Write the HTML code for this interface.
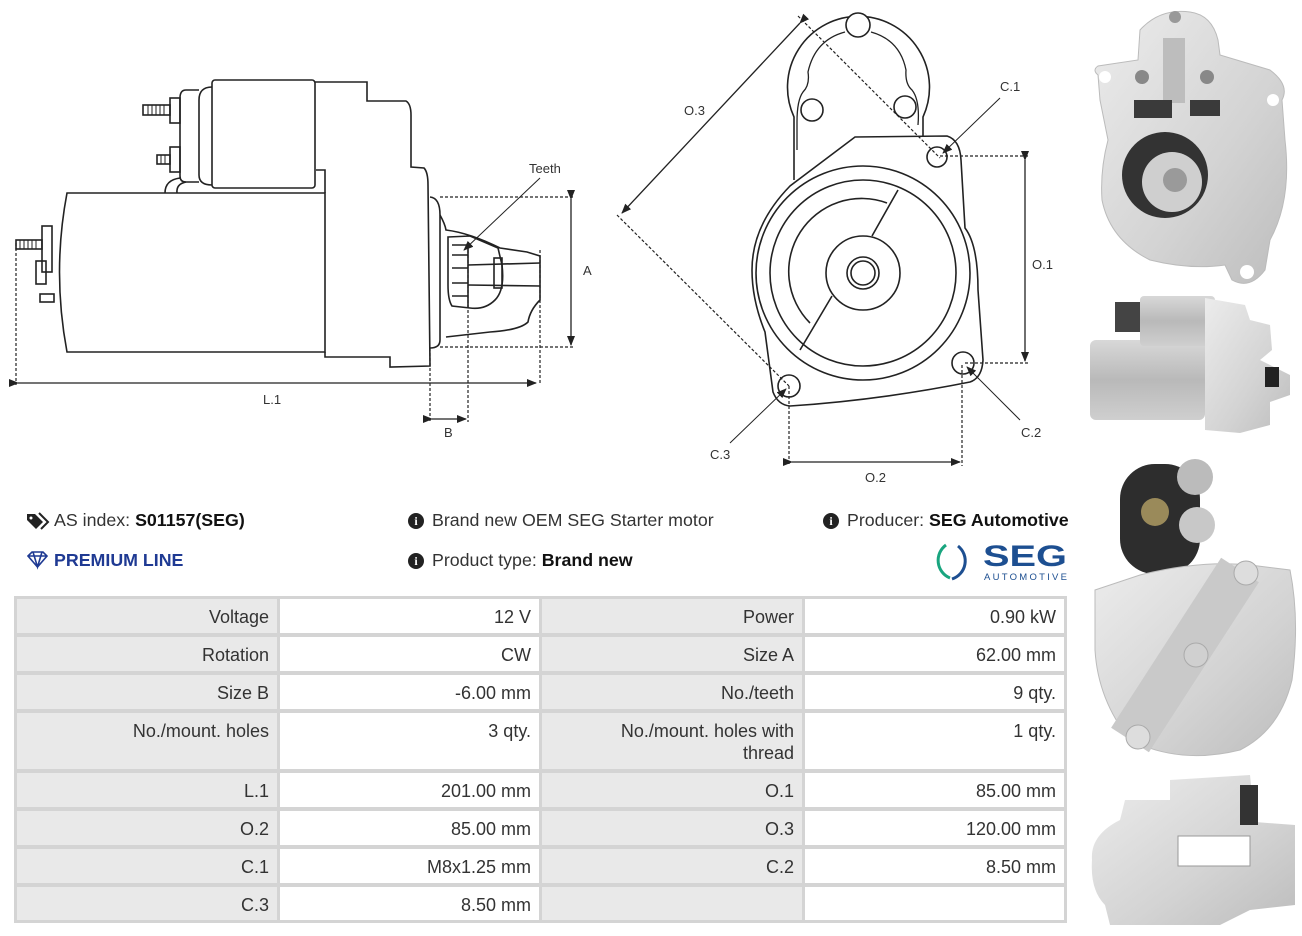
<!DOCTYPE html>
<html><head><meta charset="utf-8"><style>
body{margin:0;width:1302px;height:936px;background:#fff;position:relative;overflow:hidden;font-family:"Liberation Sans",Arial,sans-serif;color:#333}
.t{position:absolute;font-size:17.8px;white-space:nowrap;color:#333}
.t b{color:#111}
.ic{display:inline-block;width:16px;height:16px;border-radius:50%;background:#222;color:#fff;font:bold 12px "Liberation Serif",serif;text-align:center;line-height:16px;vertical-align:1px;margin-right:8px}
.c{position:absolute;box-sizing:border-box;font-size:18px;text-align:right;padding:7px 8px 0 0;line-height:22px;color:#333}
.g{background:#e9e9e9}.w{background:#fff}
</style></head><body>

<svg width="1302" height="936" style="position:absolute;left:0;top:0" xmlns="http://www.w3.org/2000/svg">
<defs>
<marker id="a" markerWidth="10" markerHeight="8" refX="9" refY="4" orient="auto" markerUnits="userSpaceOnUse"><path d="M0,0 L10,4 L0,8 z" fill="#222"/></marker>
<linearGradient id="met" x1="0" y1="0" x2="0" y2="1"><stop offset="0" stop-color="#d8d8d8"/><stop offset=".5" stop-color="#b9b9b9"/><stop offset="1" stop-color="#cfcfcf"/></linearGradient>
<linearGradient id="met2" x1="0" y1="0" x2="1" y2="1"><stop offset="0" stop-color="#ececec"/><stop offset=".6" stop-color="#d3d3d3"/><stop offset="1" stop-color="#bdbdbd"/></linearGradient>
</defs>
<g fill="none" stroke="#222" stroke-width="1.6">
<!-- side view -->
<path d="M67,193 L325,193 L325,352 L67,352 Q52,272 67,193 Z" fill="#fff"/>
<rect x="212" y="80" width="103" height="108" rx="3"/>
<path d="M212,87 Q199,87 199,100 L199,175 Q199,185 212,185"/>
<path d="M199,90 L186,90 Q180,90 180,98 L180,176 Q180,182 186,182 L199,182"/>
<path d="M180,178 Q165,180 165,193 M186,182 Q176,184 177,193"/>
<rect x="170" y="98" width="10" height="25"/><rect x="143" y="105" width="27" height="10"/>
<path d="M148,105v10M152,105v10M156,105v10M160,105v10M164,105v10" stroke-width="1"/>
<rect x="170" y="147" width="10" height="25"/><rect x="157" y="155" width="13" height="9"/>
<path d="M161,155v9M165,155v9" stroke-width="1"/>
<rect x="42" y="226" width="10" height="46"/><rect x="16" y="240" width="26" height="9"/>
<path d="M20,240v9M24,240v9M28,240v9M32,240v9M36,240v9" stroke-width="1"/>
<rect x="36" y="261" width="10" height="23"/><rect x="40" y="294" width="14" height="8"/>
<path d="M315,82 L367,82 L367,101 L406,101 Q411,104 411,115 L411,167 L424,168 Q428,172 428,185 L430,366 L390,367 L390,357 L325,357 L325,352"/>
<path d="M316,170 L325,170 L325,193"/>
<path d="M430,197 Q440,198 440,215 L440,340 Q440,348 430,348"/>
<path d="M440,215 Q445,224 446,230 Q470,233 500,248 L527,252 L540,256 L540,300 Q530,310 528,322 Q520,330 490,332 L446,337"/>
<path d="M448,237 L470,236 L498,248 L502,265 Q505,290 495,300 Q485,310 470,308 L452,306 Q448,300 448,285 Z"/>
<path d="M452,245 L468,245 L468,308 M452,255h16M452,268h16M452,283h16M452,296h16"/>
<path d="M468,265 L540,263 M468,285 L540,286"/>
<rect x="494" y="258" width="8" height="30"/>
<!-- front view -->
<path d="M794,180 L794,117 A71,71 0 1 1 923,117 L923,137"/>
<path d="M797,150 L797,122 Q797,100 803,92 Q810,85 808,72 Q815,40 845,32 M871,32 Q900,40 906,70 Q905,84 912,90 Q920,100 918,125" stroke-width="1.3"/>
<circle cx="858" cy="25" r="12" fill="#fff"/><circle cx="812" cy="110" r="11"/><circle cx="905" cy="107" r="11"/>
<path d="M855,137 L947,136 Q960,140 961,160 L965,228 Q978,245 978,290 L983,360 Q982,378 970,382 Q880,400 790,406 Q778,405 773,392 L765,332 Q752,300 752,270 Q752,225 790,186 Z" fill="#fff"/>
<circle cx="863" cy="273" r="107"/><circle cx="863" cy="273" r="93"/>
<path d="M887,203 A73,73 0 0 0 810,323"/>
<circle cx="863" cy="273" r="37" fill="#fff"/><circle cx="863" cy="273" r="16"/><circle cx="863" cy="273" r="12"/>
<path d="M898,190 L872,236 M832,296 L800,350"/>
<circle cx="937" cy="157" r="10"/><circle cx="963" cy="363" r="11"/><circle cx="789" cy="386" r="11"/>
</g>
<g fill="none" stroke="#222" stroke-width="1.2" stroke-dasharray="3,2">
<path d="M440,197 L575,197 M440,347 L575,347 M16,243 L16,385 M540,250 L540,385 M430,348 L430,422 M468,245 L468,422"/>
<path d="M940,156 L1030,156 M965,363 L1030,363 M789,386 L789,466 M962,365 L962,466 M798,16 L940,158 M617,215 L789,386"/>
</g>
<g stroke="#222" stroke-width="1.3" fill="none">
<path d="M571,199 L571,345" marker-start="url(#a)" marker-end="url(#a)"/>
<path d="M18,383 L536,383" marker-start="url(#a)" marker-end="url(#a)"/>
<path d="M432,419 L466,419" marker-start="url(#a)" marker-end="url(#a)"/>
<path d="M540,178 L464,250" marker-end="url(#a)" stroke-width="1"/>
<path d="M1025,160 L1025,361" marker-start="url(#a)" marker-end="url(#a)"/>
<path d="M792,462 L960,462" marker-start="url(#a)" marker-end="url(#a)"/>
<path d="M800,23 L622,213" marker-start="url(#a)" marker-end="url(#a)"/>
<path d="M1000,98 L943,153" marker-end="url(#a)" stroke-width="1"/>
<path d="M1020,420 L967,367" marker-end="url(#a)" stroke-width="1"/>
<path d="M730,443 L786,389" marker-end="url(#a)" stroke-width="1"/>
</g>
<g font-family="Liberation Sans,sans-serif" font-size="13" fill="#333">
<text x="529" y="173">Teeth</text><text x="583" y="275">A</text><text x="263" y="404">L.1</text><text x="444" y="437">B</text>
<text x="684" y="115">O.3</text><text x="1000" y="91">C.1</text><text x="1032" y="269">O.1</text><text x="1021" y="437">C.2</text><text x="710" y="459">C.3</text><text x="865" y="482">O.2</text>
</g>
<!-- photos -->
<g>
<path d="M1098,75 Q1092,70 1098,66 L1138,60 L1140,30 Q1160,8 1190,12 Q1212,15 1218,40 L1220,55 L1270,70 Q1290,85 1282,100 L1285,140 Q1292,200 1270,240 L1265,270 Q1250,290 1232,280 L1225,265 Q1190,270 1150,260 Q1110,240 1102,200 Q1100,170 1108,140 L1100,100 Z" fill="url(#met2)" stroke="#bbb"/>
<circle cx="1165" cy="175" r="43" fill="#333"/><circle cx="1172" cy="182" r="30" fill="#cfcfcf"/><circle cx="1175" cy="180" r="12" fill="#9a9a9a"/>
<rect x="1163" y="38" width="22" height="65" fill="#bdbdbd"/><rect x="1134" y="100" width="38" height="18" fill="#3a3a3a"/><rect x="1190" y="100" width="30" height="16" fill="#3a3a3a"/>
<circle cx="1175" cy="17" r="6" fill="#999"/><circle cx="1142" cy="77" r="7" fill="#888"/><circle cx="1207" cy="77" r="7" fill="#888"/>
<circle cx="1247" cy="272" r="7" fill="#fff"/><circle cx="1105" cy="77" r="6" fill="#fff"/><circle cx="1273" cy="100" r="6" fill="#fff"/>
<rect x="1090" y="340" width="115" height="80" rx="6" fill="url(#met)"/>
<rect x="1140" y="296" width="75" height="50" rx="4" fill="url(#met)"/>
<path d="M1205,298 L1245,305 L1250,320 L1270,325 L1272,350 L1260,360 L1290,375 L1290,395 L1270,402 L1270,425 L1240,433 L1205,430 Z" fill="url(#met2)"/>
<rect x="1265" y="367" width="14" height="20" fill="#222"/><rect x="1115" y="302" width="25" height="30" fill="#444"/>
<rect x="1120" y="464" width="80" height="110" rx="35" fill="#2d2d2d"/>
<circle cx="1195" cy="477" r="18" fill="#bbb"/><circle cx="1197" cy="525" r="18" fill="#c8c8c8"/><circle cx="1155" cy="512" r="14" fill="#9a8a5a"/>
<path d="M1095,590 L1140,575 Q1200,560 1250,565 L1290,570 Q1300,620 1292,680 Q1280,730 1240,750 Q1180,765 1130,740 Q1098,700 1095,650 Z" fill="url(#met2)" stroke="#bbb"/>
<path d="M1130,740 L1240,570" stroke="#c9c9c9" stroke-width="45"/>
<circle cx="1196" cy="655" r="12" fill="#d0d0d0" stroke="#aaa"/><circle cx="1246" cy="573" r="12" fill="#ddd" stroke="#aaa"/><circle cx="1138" cy="737" r="12" fill="#ddd" stroke="#aaa"/>
<path d="M1092,860 Q1090,835 1120,820 L1125,800 L1170,800 L1170,780 L1250,775 L1255,822 L1295,825 L1295,905 L1250,910 L1220,925 L1110,925 L1105,905 Q1090,890 1092,860 Z" fill="url(#met2)"/>
<rect x="1178" y="836" width="72" height="30" fill="#fff" stroke="#999"/><rect x="1240" y="785" width="18" height="40" fill="#333"/>
</g>
<!-- SEG logo -->
<path d="M946,545 A19,19 0 0 0 950,578" fill="none" stroke="#19a57f" stroke-width="3"/>
<path d="M958,546 A19,19 0 0 1 952,579" fill="none" stroke="#1d4f91" stroke-width="3"/>
<text x="983" y="566" font-family="Liberation Sans,sans-serif" font-weight="bold" font-size="30" fill="#1d4f91" textLength="84" lengthAdjust="spacingAndGlyphs">SEG</text>
<text x="984" y="580" font-family="Liberation Sans,sans-serif" font-size="9.5" fill="#1d4f91" textLength="83" lengthAdjust="spacing">AUTOMOTIVE</text>
<!-- tag & diamond icons -->
<path d="M27,514 L35,514 L43,522 L36,529 L27,520 Z" fill="#222"/><circle cx="31" cy="518" r="1.5" fill="#fff"/><path d="M39,513 L48,522 L41,529" fill="none" stroke="#222" stroke-width="2"/>
<path d="M28,556 L32,552 L43,552 L47,556 L37.5,567 Z M28,556 L47,556 M33,552 L37.5,567 L42,552" fill="none" stroke="#1f3a93" stroke-width="1.6"/>
</svg>

<div class="t" style="left:54px;top:510px">AS index: <b>S01157(SEG)</b></div>
<div class="t" style="left:408px;top:510px"><span class="ic">i</span>Brand new OEM SEG Starter motor</div>
<div class="t" style="left:823px;top:510px"><span class="ic">i</span>Producer: <b>SEG Automotive</b></div>
<div class="t" style="left:54px;top:550px;color:#1f3a93;font-weight:bold">PREMIUM LINE</div>
<div class="t" style="left:408px;top:550px"><span class="ic">i</span>Product type: <b>Brand new</b></div>

<div style="position:absolute;left:14px;top:596px;width:1053px;height:327px;background:#d4d4d4"></div>
<div class="c g" style="left:17px;top:599px;width:260px;height:34px">Voltage</div><div class="c w" style="left:280px;top:599px;width:259px;height:34px">12 V</div><div class="c g" style="left:542px;top:599px;width:260px;height:34px">Power</div><div class="c w" style="left:805px;top:599px;width:259px;height:34px">0.90 kW</div>
<div class="c g" style="left:17px;top:637px;width:260px;height:34px">Rotation</div><div class="c w" style="left:280px;top:637px;width:259px;height:34px">CW</div><div class="c g" style="left:542px;top:637px;width:260px;height:34px">Size A</div><div class="c w" style="left:805px;top:637px;width:259px;height:34px">62.00 mm</div>
<div class="c g" style="left:17px;top:675px;width:260px;height:34px">Size B</div><div class="c w" style="left:280px;top:675px;width:259px;height:34px">-6.00 mm</div><div class="c g" style="left:542px;top:675px;width:260px;height:34px">No./teeth</div><div class="c w" style="left:805px;top:675px;width:259px;height:34px">9 qty.</div>
<div class="c g" style="left:17px;top:713px;width:260px;height:56px">No./mount. holes</div><div class="c w" style="left:280px;top:713px;width:259px;height:56px">3 qty.</div><div class="c g" style="left:542px;top:713px;width:260px;height:56px">No./mount. holes with<br>thread</div><div class="c w" style="left:805px;top:713px;width:259px;height:56px">1 qty.</div>
<div class="c g" style="left:17px;top:773px;width:260px;height:34px">L.1</div><div class="c w" style="left:280px;top:773px;width:259px;height:34px">201.00 mm</div><div class="c g" style="left:542px;top:773px;width:260px;height:34px">O.1</div><div class="c w" style="left:805px;top:773px;width:259px;height:34px">85.00 mm</div>
<div class="c g" style="left:17px;top:811px;width:260px;height:34px">O.2</div><div class="c w" style="left:280px;top:811px;width:259px;height:34px">85.00 mm</div><div class="c g" style="left:542px;top:811px;width:260px;height:34px">O.3</div><div class="c w" style="left:805px;top:811px;width:259px;height:34px">120.00 mm</div>
<div class="c g" style="left:17px;top:849px;width:260px;height:34px">C.1</div><div class="c w" style="left:280px;top:849px;width:259px;height:34px">M8x1.25 mm</div><div class="c g" style="left:542px;top:849px;width:260px;height:34px">C.2</div><div class="c w" style="left:805px;top:849px;width:259px;height:34px">8.50 mm</div>
<div class="c g" style="left:17px;top:887px;width:260px;height:33px">C.3</div><div class="c w" style="left:280px;top:887px;width:259px;height:33px">8.50 mm</div><div class="c g" style="left:542px;top:887px;width:260px;height:33px"></div><div class="c w" style="left:805px;top:887px;width:259px;height:33px"></div>
</body></html>
